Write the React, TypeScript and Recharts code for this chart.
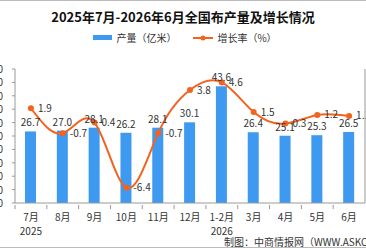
import React from 'react';
import { ComposedChart, Bar, Line, XAxis, YAxis, LabelList, Legend } from 'recharts';

const months = ['7月', '8月', '9月', '10月', '11月', '12月', '1-2月', '3月', '4月', '5月', '6月'];
const years = ['2025', '', '', '', '', '', '2026', '', '', '', ''];
const output = [26.7, 27.0, 28.1, 26.2, 28.1, 30.1, 43.6, 26.4, 25.1, 25.3, 26.5];
const growth = [1.9, -0.7, 0.4, -6.4, -0.7, 3.8, 4.6, 1.5, 0.3, 1.2, 1.1];
const leftTicks = [0, 5, 10, 15, 20, 25, 30, 35, 40, 45, 50];
const rightTicks = [-8, -6.6, -5.2, -3.8, -2.4, -1, 0.4, 1.8, 3.2, 4.6, 6];

const data = months.map((m, i) => ({
  month: m,
  year: years[i],
  output: output[i],
  growth: growth[i],
}));

const W = 366;
const H = 248;
const LEFT = 15;
const RIGHT = 365;
const BAND = (RIGHT - LEFT) / months.length;
const FONT = '"Noto Sans CJK SC", "DejaVu Sans", sans-serif';
const BLUE = '#3d9af0';
const ORANGE = '#f5621e';
const AXIS = '#999';

const MonthTick = (props: any) => {
  const { x, y, payload, index } = props;
  const yr = years[index];
  return (
    <g>
      <line x1={x - BAND / 2} y1={y} x2={x - BAND / 2} y2={y + 4} stroke={AXIS} />
      <text x={x} y={y + 16} textAnchor="middle" fontSize={10} fill="#333" fontFamily={FONT}>
        {payload.value}
      </text>
      {yr ? (
        <text x={x} y={y + 30} textAnchor="middle" fontSize={10} fill="#333" fontFamily={FONT}>
          {yr}
        </text>
      ) : null}
    </g>
  );
};

// left axis labels sit mostly off the left edge, as in the source image
const LeftTick = (props: any) => {
  const { y, payload } = props;
  return (
    <text x={3} y={y + 4} textAnchor="end" fontSize={10} fill="#333" fontFamily={FONT}>
      {Number(payload.value).toFixed(1)}
    </text>
  );
};

const LegendBox = () => (
  <div style={{ display: 'flex', justifyContent: 'center', alignItems: 'center', fontSize: 10, color: '#333', fontFamily: FONT, paddingLeft: 4 }}>
    <span style={{ display: 'inline-block', width: 19, height: 5, background: BLUE, marginRight: 4 }} />
    <span>产量（亿米）</span>
    <svg width={20} height={8} style={{ marginLeft: 17, marginRight: 4 }}>
      <line x1={0} y1={4} x2={20} y2={4} stroke={ORANGE} strokeWidth={2} />
      <circle cx={10} cy={4} r={2.5} fill={ORANGE} />
    </svg>
    <span>增长率（%）</span>
  </div>
);

const App: React.FC = () => {
  return (
    <div
      style={{
        position: 'absolute',
        left: 0,
        top: 0,
        width: W,
        height: H,
        overflow: 'hidden',
        background: '#fff',
        boxSizing: 'border-box',
        borderTop: '1px solid #bbb',
        borderBottom: '1px solid #bbb',
      }}
    >
      <div
        style={{
          position: 'absolute',
          top: 6,
          left: 0,
          width: W,
          textAlign: 'center',
          fontSize: 13,
          fontWeight: 'bold',
          color: '#111',
          fontFamily: FONT,
        }}
      >
        2025年7月-2026年6月全国布产量及增长情况
      </div>
      <div
        style={{
          position: 'absolute',
          top: 233,
          left: 224,
          whiteSpace: 'nowrap',
          fontSize: 10,
          color: '#333',
          fontFamily: FONT,
        }}
      >
        制图：中商情报网（WWW.ASKCI.COM）
      </div>
      <div style={{ position: 'absolute', top: -1, left: 0 }}>
        <ComposedChart width={W} height={H - 2} data={data} margin={{ top: 54, right: 0, left: 0, bottom: 0 }}>
          <Legend verticalAlign="top" wrapperStyle={{ top: 30, left: 0, width: W }} content={() => <LegendBox />} />
          <XAxis
            dataKey="month"
            height={43}
            interval={0}
            tickLine={false}
            tickSize={0}
            stroke={AXIS}
            tick={<MonthTick />}
          />
          <YAxis
            yAxisId="left"
            width={LEFT}
            domain={[0, 50]}
            ticks={leftTicks}
            interval={0}
            tickSize={3}
            stroke={AXIS}
            tick={<LeftTick />}
          />
          <YAxis
            yAxisId="right"
            orientation="right"
            width={W - RIGHT}
            domain={[-8, 6]}
            ticks={rightTicks}
            tick={false}
            tickLine={false}
            stroke={AXIS}
          />
          <Bar yAxisId="left" dataKey="output" fill={BLUE} barSize={11} isAnimationActive={false}>
            <LabelList dataKey="output" position="top" offset={5} fontSize={10} fill="#333" fontFamily={FONT} formatter={(v: any) => Number(v).toFixed(1)} />
          </Bar>
          <Line
            yAxisId="right"
            dataKey="growth"
            type="natural"
            stroke={ORANGE}
            strokeWidth={2}
            dot={{ r: 3, fill: ORANGE, stroke: ORANGE, strokeWidth: 0 }}
            isAnimationActive={false}
          >
            <LabelList dataKey="growth" position="right" offset={7} fontSize={10} fill="#333" fontFamily={FONT} />
          </Line>
        </ComposedChart>
      </div>
    </div>
  );
};

export default App;
